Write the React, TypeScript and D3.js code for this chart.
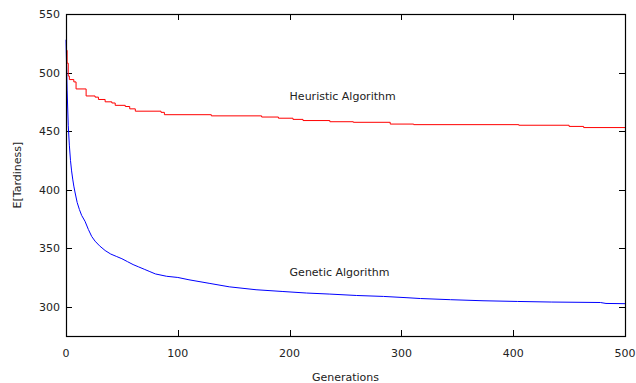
import * as d3 from "d3";
import React, { useRef, useEffect } from "react";

const mainWidth = 636;
const mainHeight = 383;

const margin = { top: 14, right: 11, bottom: 47, left: 66 };
const width = mainWidth - margin.left - margin.right;
const height = mainHeight - margin.top - margin.bottom;

// heuristic algorithm (step curve)
const heuristicGen = [0, 1, 2, 3, 7, 9, 18, 26, 29, 35, 41, 44, 53, 57, 62, 85, 88, 130, 175, 190, 203, 212, 236, 257, 290, 311, 405, 450, 463, 500];
const heuristicVal = [519, 508, 497, 494, 492, 486, 480, 479, 477, 475, 474, 472, 471, 469, 467, 466, 464, 463, 462, 461, 460, 459, 458, 457.5, 456, 455.5, 455, 454, 453, 453];

// genetic algorithm
const geneticGen = [0, 1, 2, 3, 4, 5, 6, 7, 8, 10, 12, 14, 17, 20, 23, 26, 30, 35, 40, 45, 50, 55, 60, 65, 70, 75, 80, 90, 100, 110, 128, 146, 170, 194, 215, 236, 260, 284, 305, 317, 344, 373, 404, 434, 478, 483, 500];
const geneticVal = [528, 485, 455, 438, 425, 416, 409, 403, 398, 389, 383, 378, 373, 366, 360, 356, 352, 348, 345, 343, 341, 338.5, 336, 334, 332, 330, 328, 326, 325, 323, 320, 317, 314.5, 313, 311.7, 310.8, 309.6, 308.8, 307.7, 307, 306, 305.1, 304.5, 304, 303.6, 302.8, 302.6];

const xTicks = [0, 100, 200, 300, 400, 500];
const yTicks = [300, 350, 400, 450, 500, 550];

const labels = [
  { text: "Heuristic Algorithm", gen: 200, val: 480 },
  { text: "Genetic Algorithm", gen: 200, val: 330 },
];

const font = "DejaVu Sans, Verdana, sans-serif";

function App() {
  const ref = useRef<SVGSVGElement>(null);

  useEffect(() => {
    const svg = d3.select(ref.current);
    svg.selectAll("*").remove();

    const xScale = d3.scaleLinear().domain([0, 500]).range([0, width]);
    const yScale = d3.scaleLinear().domain([275, 550]).range([height, 0]);

    const g = svg
      .append("g")
      .attr("transform", `translate(${margin.left},${margin.top})`);

    // inward ticks on all four sides
    const tickLen = 6;
    const ticks = g.append("g").attr("stroke", "#000").attr("stroke-width", 1);
    xTicks.forEach((t) => {
      const x = Math.round(xScale(t)) + 0.5;
      ticks.append("line").attr("x1", x).attr("x2", x).attr("y1", height).attr("y2", height - tickLen);
      ticks.append("line").attr("x1", x).attr("x2", x).attr("y1", 0).attr("y2", tickLen);
    });
    yTicks.forEach((t) => {
      const y = Math.round(yScale(t)) + 0.5;
      ticks.append("line").attr("x1", 0).attr("x2", tickLen).attr("y1", y).attr("y2", y);
      ticks.append("line").attr("x1", width).attr("x2", width - tickLen).attr("y1", y).attr("y2", y);
    });

    // tick labels
    g.selectAll(".xlab")
      .data(xTicks)
      .join("text")
      .attr("class", "xlab")
      .attr("x", (d) => xScale(d))
      .attr("y", height + 21)
      .attr("text-anchor", "middle")
      .text((d) => d);

    g.selectAll(".ylab")
      .data(yTicks)
      .join("text")
      .attr("class", "ylab")
      .attr("x", -6)
      .attr("y", (d) => yScale(d) + 4)
      .attr("text-anchor", "end")
      .text((d) => d);

    // curves
    const heuristic = heuristicGen.map((d, i) => [d, heuristicVal[i]] as [number, number]);
    const genetic = geneticGen.map((d, i) => [d, geneticVal[i]] as [number, number]);

    const stepLine = d3
      .line<[number, number]>()
      .x((d) => xScale(d[0]))
      .y((d) => yScale(d[1]))
      .curve(d3.curveStepAfter);
    const plainLine = d3
      .line<[number, number]>()
      .x((d) => xScale(d[0]))
      .y((d) => yScale(d[1]));

    g.append("path")
      .attr("d", stepLine(heuristic))
      .attr("fill", "none")
      .attr("stroke", "#ff0000")
      .attr("stroke-width", 1);

    g.append("path")
      .attr("d", plainLine(genetic))
      .attr("fill", "none")
      .attr("stroke", "#0000ff")
      .attr("stroke-width", 1);

    // frame
    g.append("rect")
      .attr("x", 0.5)
      .attr("y", 0.5)
      .attr("width", width)
      .attr("height", height)
      .attr("fill", "none")
      .attr("stroke", "#000")
      .attr("stroke-width", 1.2);

    // curve labels
    g.selectAll(".clab")
      .data(labels)
      .join("text")
      .attr("class", "clab")
      .attr("x", (d) => xScale(d.gen))
      .attr("y", (d) => yScale(d.val) + 4)
      .text((d) => d.text);

    // axis titles
    svg
      .append("text")
      .attr("x", margin.left + width / 2)
      .attr("y", 381)
      .attr("text-anchor", "middle")
      .text("Generations");

    svg
      .append("text")
      .attr("transform", `translate(21,${margin.top + height / 2}) rotate(-90)`)
      .attr("text-anchor", "middle")
      .text("E[Tardiness]");
  }, []);

  return (
    <svg
      ref={ref}
      width={mainWidth}
      height={mainHeight}
      style={{ position: "absolute", left: 0, top: 0, background: "#fff" }}
      fontFamily={font}
      fontSize={11}
      fill="#222"
    ></svg>
  );
}

export default App;
